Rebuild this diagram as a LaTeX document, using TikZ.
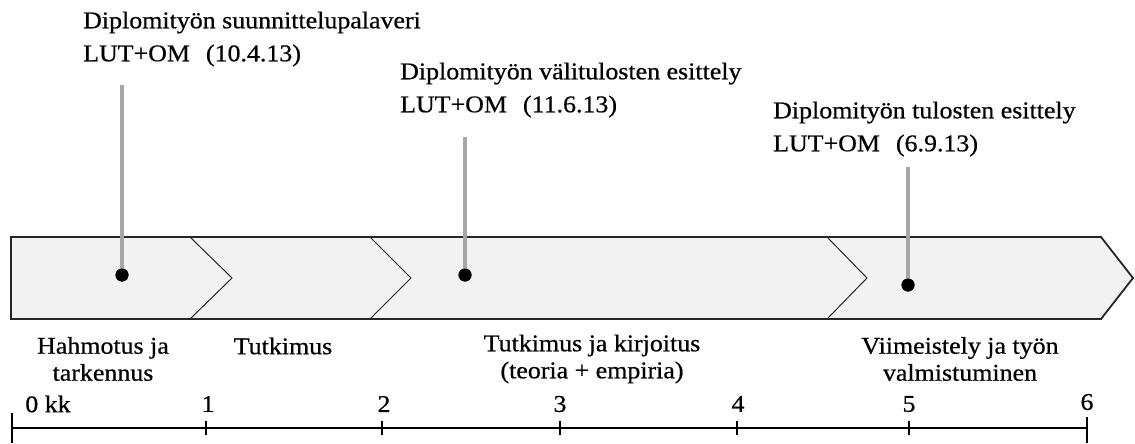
\documentclass[tikz,border=0pt]{standalone}
\usepackage{fontspec}
\setmainfont{Liberation Serif}[FakeStretch=1.08,FakeBold=0.6]
\definecolor{barfill}{HTML}{F2F2F2}
\definecolor{pin}{HTML}{A6A6A6}
\definecolor{edge}{HTML}{262626}
\begin{document}
\begin{tikzpicture}[x=1pt,y=-1pt,
  toplbl/.style={anchor=west,align=left,inner sep=0pt,font=\fontsize{24}{33}\selectfont},
  botlbl/.style={anchor=center,align=center,inner sep=0pt,font=\fontsize{24}{27}\selectfont},
  ticklbl/.style={anchor=center,inner sep=0pt,font=\fontsize{24}{27}\selectfont},
  dot/.style={circle,fill=black,minimum size=13pt,inner sep=0pt},
  pinline/.style={draw=pin,line width=3.5pt},
  barshape/.style={draw=edge,line width=1.8pt,fill=barfill,line join=miter},
  chev/.style={draw=edge,line width=1pt},
  axisline/.style={draw=black,line width=2.8pt},
  tickmark/.style={draw=black,line width=2.2pt}]
\useasboundingbox (0,0) rectangle (1135,444);
% bar
\path[barshape] (11,237) -- (1101,237) -- (1133,278) -- (1101,319) -- (11,319) -- cycle;
\draw[chev] (190,237) -- (232,278) -- (190,319);
\draw[chev] (370,237) -- (411,278) -- (370,319);
\draw[chev] (827,237) -- (867,278) -- (827,319);
% top labels
\node[toplbl] (t1) at (83,39) {Diplomityön suunnittelupalaveri\\LUT+OM\hspace{16pt}(10.4.13)};
\node[toplbl] (t2) at (400,90) {Diplomityön välitulosten esittely\\LUT+OM\hspace{16pt}(11.6.13)};
\node[toplbl] (t3) at (773,129) {Diplomityön tulosten esittely\\LUT+OM\hspace{16pt}(6.9.13)};
% pins
\coordinate (p1) at (122,85);
\coordinate (p2) at (465,137);
\coordinate (p3) at (908,167);
\node[dot] (d1) at (122,275) {};
\node[dot] (d2) at (465,275) {};
\node[dot] (d3) at (908,285) {};
\draw[pinline] (p1) -- (d1.center);
\draw[pinline] (p2) -- (d2.center);
\draw[pinline] (p3) -- (d3.center);
\node[dot] at (d1) {};
\node[dot] at (d2) {};
\node[dot] at (d3) {};
% phase labels
\node[botlbl] (b1) at (103,359) {Hahmotus ja\\tarkennus};
\node[botlbl] (b2) at (283,346) {Tutkimus};
\node[botlbl] (b3) at (592,359) {Tutkimus ja kirjoitus\\(teoria + empiria)};
\node[botlbl] (b4) at (960,359) {Viimeistely ja työn\\valmistuminen};
% axis
\coordinate (a0) at (12,428);
\coordinate (a1) at (206,428);
\coordinate (a2) at (382,428);
\coordinate (a3) at (560,428);
\coordinate (a4) at (737,428);
\coordinate (a5) at (909,428);
\coordinate (a6) at (1087,428);
\draw[axisline] (a0) -- (a6);
\draw[tickmark] ([yshift=-15pt]a0) -- ([yshift=15pt]a0);
\draw[tickmark] ([yshift=-15pt]a6) -- ([yshift=11pt]a6);
\foreach \c in {a1,a2,a3,a4,a5}{\draw[tickmark] ([yshift=-7pt]\c) -- ([yshift=7pt]\c);}
\node[ticklbl] (l0) at (48,404) {0 kk};
\node[ticklbl] (l1) at (208,404) {1};
\node[ticklbl] (l2) at (384,404) {2};
\node[ticklbl] (l3) at (560,404) {3};
\node[ticklbl] (l4) at (738,404) {4};
\node[ticklbl] (l5) at (909,404) {5};
\node[ticklbl] (l6) at (1087,402) {6};
\end{tikzpicture}
\end{document}
